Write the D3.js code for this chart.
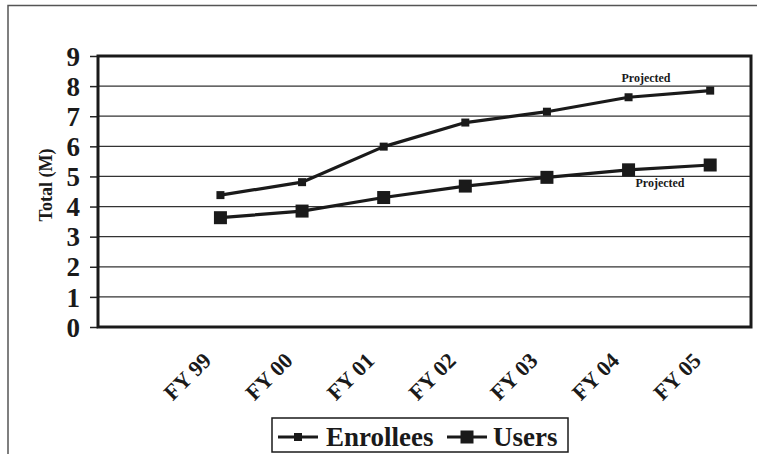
<!DOCTYPE html>
<html>
<head>
<meta charset="utf-8">
<script src="https://cdn.jsdelivr.net/npm/d3@7"></script>
</head>
<body style="margin:0;background:#fff">
<svg id="chart" width="757" height="454" style="display:block"></svg>
<script>
// Category slots along the x axis (the first slot is left empty)
const categories = ["", "FY 99", "FY 00", "FY 01", "FY 02", "FY 03", "FY 04", "FY 05"];
const years = ["FY 99", "FY 00", "FY 01", "FY 02", "FY 03", "FY 04", "FY 05"];
// Totals in millions
const enrollees = [4.38, 4.81, 5.99, 6.79, 7.15, 7.63, 7.85];
const users = [3.63, 3.85, 4.30, 4.68, 4.97, 5.22, 5.38];
const yTicks = [0, 1, 2, 3, 4, 5, 6, 7, 8, 9];
const seriesNames = ["Enrollees", "Users"];
const noteText = "Projected";

const FONT = "Liberation Serif";
const INK = "#1a1a1a";

const svg = d3.select("#chart");
const plot = { left: 98, right: 751, top: 56, bottom: 327 };

const x = d3.scaleBand().domain(categories).range([plot.left, plot.right]);
const y = d3.scaleLinear().domain([0, 9]).range([plot.bottom, plot.top]);
const cx = d => x(d) + x.bandwidth() / 2;

function label(sel, size) {
  return sel.attr("font-family", FONT).attr("font-weight", "bold")
    .attr("font-size", size).attr("fill", INK);
}

// outer page frame
svg.append("path")
  .attr("d", `M8,454 L8,5.5 L757,5.5`)
  .attr("fill", "none").attr("stroke", "#555").attr("stroke-width", 1.5);

// horizontal gridlines
svg.append("g").selectAll("line").data(yTicks.filter(v => v > 0 && v < 9)).join("line")
  .attr("x1", plot.left).attr("x2", plot.right)
  .attr("y1", d => y(d)).attr("y2", d => y(d))
  .attr("stroke", "#333").attr("stroke-width", 1.2);

// y axis with bold numbers
const yAxis = svg.append("g").attr("transform", `translate(${plot.left},0)`)
  .call(d3.axisLeft(y).tickValues(yTicks).tickSize(8).tickPadding(10).tickFormat(d3.format("d")));
yAxis.select(".domain").remove();
yAxis.selectAll(".tick line").attr("stroke", "#222").attr("stroke-width", 1.5);
label(yAxis.selectAll(".tick text"), 27).attr("dy", "0.34em");

// x axis labels, rotated
const xAxis = svg.append("g").attr("transform", `translate(0,${plot.bottom})`)
  .call(d3.axisBottom(x).tickValues(years).tickSize(0).tickPadding(0));
xAxis.select(".domain").remove();
label(xAxis.selectAll(".tick text"), 22)
  .attr("text-anchor", "end")
  .attr("dy", 0).attr("y", 0)
  .attr("transform", "translate(-8,35) rotate(-45)");

// plot border
svg.append("rect")
  .attr("x", plot.left).attr("y", plot.top)
  .attr("width", plot.right - plot.left).attr("height", plot.bottom - plot.top)
  .attr("fill", "none").attr("stroke", INK).attr("stroke-width", 3);

// y axis title
label(svg.append("text"), 18)
  .attr("transform", `translate(52,185) rotate(-90)`)
  .attr("text-anchor", "middle")
  .text("Total (M)");

// series lines and markers
const line = d3.line().x((d, i) => cx(years[i])).y(d => y(d));
const series = [
  { name: seriesNames[0], values: enrollees, size: 8 },
  { name: seriesNames[1], values: users, size: 13 }
];
series.forEach(s => {
  svg.append("path").datum(s.values)
    .attr("d", line).attr("fill", "none")
    .attr("stroke", INK).attr("stroke-width", 3.2).attr("stroke-linejoin", "round");
  svg.append("g").selectAll("rect").data(s.values).join("rect")
    .attr("x", (d, i) => cx(years[i]) - s.size / 2)
    .attr("y", d => y(d) - s.size / 2)
    .attr("width", s.size).attr("height", s.size)
    .attr("fill", INK);
});

// "Projected" notes
label(svg.append("text"), 12).attr("x", 646).attr("y", y(7.85) - 9)
  .attr("text-anchor", "middle").text(noteText);
label(svg.append("text"), 12).attr("x", 660).attr("y", y(5.22) + 17)
  .attr("text-anchor", "middle").text(noteText);

// legend
const lg = svg.append("g");
lg.append("rect").attr("x", 272).attr("y", 418).attr("width", 296).attr("height", 34)
  .attr("fill", "#fff").attr("stroke", INK).attr("stroke-width", 1.5);
const legendItems = [
  { name: seriesNames[0], x0: 278, size: 8, tx: 326 },
  { name: seriesNames[1], x0: 447, size: 13, tx: 493 }
];
legendItems.forEach(it => {
  lg.append("line").attr("x1", it.x0).attr("x2", it.x0 + 40).attr("y1", 437).attr("y2", 437)
    .attr("stroke", INK).attr("stroke-width", 3.2);
  lg.append("rect").attr("x", it.x0 + 20 - it.size / 2).attr("y", 437 - it.size / 2)
    .attr("width", it.size).attr("height", it.size).attr("fill", INK);
  label(lg.append("text"), 27).attr("x", it.tx).attr("y", 446).text(it.name);
});
</script>
</body>
</html>
